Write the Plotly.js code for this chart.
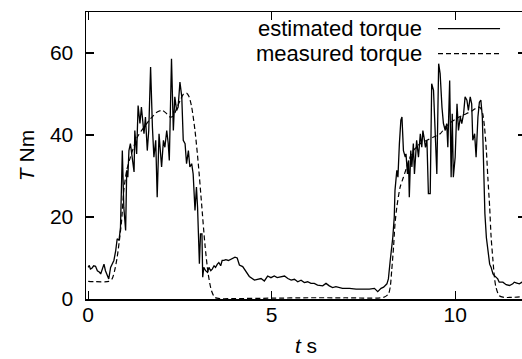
<!DOCTYPE html>
<html>
<head>
<meta charset="utf-8">
<script src="https://cdn.plot.ly/plotly-3.0.1.min.js"></script>
<style>
html, body { margin: 0; padding: 0; overflow: hidden; background: #fff; }
#chart { width: 530px; height: 365px; }
</style>
</head>
<body>
<div id="chart"></div>
<script>
// Estimated torque (solid)
var estTime = [
  0.00, 0.03, 0.06, 0.10, 0.15, 0.20, 0.25, 0.30, 0.34, 0.38, 0.43, 0.47, 0.52, 0.56, 0.61, 0.65, 0.70, 0.75, 0.79, 0.84,
  0.88, 0.93, 0.97, 1.02, 1.05, 1.08, 1.11, 1.15, 1.20, 1.25, 1.27, 1.32, 1.36, 1.41, 1.45, 1.52, 1.56, 1.61, 1.65, 1.70,
  1.75, 1.79, 1.84, 1.88, 1.93,
  2.00, 2.05, 2.09, 2.14, 2.18, 2.21, 2.27, 2.32, 2.36, 2.41, 2.45, 2.50, 2.55, 2.59, 2.64, 2.68, 2.73, 2.77, 2.82, 2.86,
  2.91, 2.95, 2.98, 3.03, 3.06, 3.10, 3.12, 3.15, 3.20, 3.25, 3.29, 3.34, 3.38, 3.43, 3.47, 3.52, 3.56, 3.61, 3.65, 3.70,
  3.75, 3.82, 3.91, 4.00, 4.06,
  4.12, 4.21, 4.30, 4.39, 4.53, 4.62, 4.71, 4.80, 4.89, 4.98, 5.07, 5.15, 5.25, 5.35, 5.44, 5.53, 5.62, 5.71, 5.80, 5.89,
  5.98, 6.07, 6.16, 6.25, 6.39, 6.48, 6.57, 6.66, 6.75, 6.84, 6.93, 7.12, 7.30, 7.48, 7.66, 7.80, 7.89, 7.98,
  8.05, 8.14, 8.18, 8.23, 8.27, 8.30, 8.34, 8.36, 8.41, 8.44, 8.48, 8.52, 8.55, 8.59, 8.64, 8.66, 8.70, 8.73, 8.75, 8.79,
  8.82, 8.86, 8.89, 8.93, 8.95, 9.00, 9.05, 9.09, 9.12, 9.15, 9.19, 9.23, 9.27, 9.32, 9.36, 9.41, 9.45, 9.50, 9.55, 9.59,
  9.64, 9.68, 9.73,
  9.77, 9.80, 9.85, 9.89, 9.92, 9.95, 10.00, 10.05, 10.09, 10.14, 10.18, 10.23, 10.27, 10.32, 10.36, 10.41, 10.45, 10.48,
  10.53, 10.57, 10.62, 10.66, 10.70, 10.74, 10.77, 10.81, 10.85, 10.89, 10.94, 10.98, 11.03, 11.07, 11.11, 11.16, 11.20,
  11.30, 11.39, 11.48, 11.57, 11.61, 11.68, 11.75, 11.82, 11.93
];
var estTorque = [
  7.7, 8.2, 7.3, 7.5, 8.1, 8.0, 6.9, 6.6, 6.1, 7.4, 8.5, 6.9, 5.7, 4.9, 7.7, 8.5, 9.4, 11.8, 14.7, 14.3,
  17.5, 36.2, 22.4, 16.7, 31.4, 29.7, 36.2, 37.9, 34.6, 31.0, 41.1, 35.4, 47.2, 42.8, 46.8, 40.3, 44.4, 36.2, 41.1, 56.6,
  41.9, 34.6, 38.7, 24.8, 40.3,
  32.2, 38.7, 37.0, 41.1, 38.0, 33.8, 58.6, 41.1, 49.3, 46.0, 46.8, 52.9, 49.3, 38.7, 37.9, 33.0, 36.2, 32.2, 33.0, 30.5,
  21.6, 27.3, 22.4, 8.6, 15.9, 15.9, 5.3, 7.7, 6.9, 6.5, 7.7, 6.9, 7.3, 8.1, 7.7, 8.5, 8.9, 8.1, 9.4, 9.4,
  9.6, 9.4, 9.8, 10.2, 10.0,
  8.3, 7.9, 6.7, 5.5, 4.6, 4.8, 5.0, 4.4, 5.6, 5.2, 5.6, 5.2, 5.4, 5.6, 5.0, 4.6, 4.8, 4.2, 4.6, 4.0,
  4.2, 3.8, 3.8, 3.4, 3.2, 3.8, 3.2, 2.8, 3.0, 2.8, 2.6, 2.6, 2.4, 2.4, 2.4, 2.6, 1.8, 2.6,
  2.9, 3.7, 4.9, 9.4, 12.2, 15.0, 20.0, 26.5, 31.4, 29.7, 37.9, 43.6, 44.4, 36.2, 34.6, 35.4, 30.5, 33.8, 24.8, 36.2,
  32.2, 37.9, 30.5, 35.4, 38.7, 34.6, 40.3, 37.0, 41.1, 39.5, 37.0, 38.7, 25.7, 25.7, 52.5, 50.9, 41.1, 30.5, 57.4, 55.0,
  46.8, 42.8, 41.1,
  42.8, 37.0, 53.3, 29.7, 45.2, 29.7, 34.6, 47.6, 41.1, 44.4, 42.8, 45.2, 49.3, 48.5, 46.0, 49.3, 47.6, 38.7,
  40.3, 34.6, 44.4, 48.0, 48.5, 44.4, 33.0, 20.8, 15.0, 12.6, 8.5, 7.7, 6.1, 5.7, 5.3, 4.9, 4.1,
  4.1, 3.5, 3.3, 3.7, 4.1, 3.9, 3.7, 4.1, 4.2
];

// Measured torque (dashed)
var measTime = [
  0.00, 0.56, 0.65, 0.72, 0.79, 0.85, 0.91, 0.97, 1.05, 1.15, 1.34, 1.52, 1.70, 1.88, 2.02, 2.14, 2.23, 2.32, 2.41, 2.50,
  2.60, 2.68, 2.75, 2.82, 2.91, 3.00, 3.09, 3.18, 3.27, 3.36, 3.45, 3.59, 4.00, 5.00, 6.00, 7.00, 8.05, 8.18, 8.23, 8.27,
  8.32, 8.36, 8.41, 8.50, 8.59, 8.68, 8.77, 8.86, 9.05, 9.23, 9.41, 9.59, 9.77, 10.03, 10.30, 10.48, 10.62, 10.69, 10.75,
  10.80, 10.85, 10.89, 10.94, 10.98, 11.03, 11.07, 11.11, 11.20, 11.34, 11.93
];
var measTorque = [
  4.3, 4.3, 4.9, 6.9, 10.2, 14.3, 19.1, 26.5, 31.4, 34.6, 39.5, 41.9, 44.0, 45.6, 46.0, 45.2, 44.4, 44.6, 46.5, 48.3,
  50.0, 50.2, 49.3, 46.8, 41.1, 33.0, 23.2, 13.4, 6.1, 2.0, 0.4, 0.1, 0.1, 0.2, 0.3, 0.3, 0.4, 1.2, 2.9, 6.9,
  12.6, 18.3, 22.4, 27.3, 29.7, 32.2, 34.6, 36.2, 37.9, 38.7, 39.5, 40.3, 42.3, 44.0, 45.2, 46.0, 46.8, 46.6, 45.2,
  41.9, 36.2, 29.7, 22.4, 15.0, 9.4, 5.3, 2.9, 0.8, 0.4, 0.6
];

var seriesNames = ['estimated torque', 'measured torque'];
var xTicks = [0, 5, 10];
var yTicks = [0, 20, 40, 60];

var traces = [
  {x: estTime, y: estTorque, type: 'scatter', mode: 'lines', name: seriesNames[0],
   line: {color: '#000', width: 1.3}},
  {x: measTime, y: measTorque, type: 'scatter', mode: 'lines', name: seriesNames[1],
   line: {color: '#000', width: 1.2, dash: '5px,3px', shape: 'spline', smoothing: 0.7}}
];

var fontFam = 'Liberation Sans, Arial, Helvetica, sans-serif';
var legY1 = 0.942, legY2 = 0.855;
var layout = {
  width: 530, height: 365,
  margin: {l: 86, r: 4, t: 12, b: 66},
  paper_bgcolor: '#fff', plot_bgcolor: '#fff',
  showlegend: false,
  font: {family: fontFam, size: 21, color: '#000'},
  xaxis: {
    range: [-0.06, 11.93], tickvals: xTicks, ticktext: xTicks.map(String),
    ticks: 'inside', ticklen: 8, tickwidth: 1.3, tickcolor: '#000',
    showline: true, linewidth: 1.5, linecolor: '#000', mirror: 'ticks',
    showgrid: false, zeroline: false, ticklabelstandoff: -4,
    title: {text: '<i>t</i> s', standoff: 13, font: {size: 21}}
  },
  yaxis: {
    range: [0, 70], tickvals: yTicks, ticktext: yTicks.map(String),
    ticks: 'inside', ticklen: 8, tickwidth: 1.3, tickcolor: '#000',
    showline: true, linewidth: 1.5, linecolor: '#000', mirror: 'ticks',
    showgrid: false, zeroline: false, ticklabelstandoff: 7,
    title: {text: '<i>T</i> Nm', standoff: 9, font: {size: 21}}
  },
  annotations: [
    {xref: 'paper', yref: 'paper', x: 0.767, y: legY1, xanchor: 'right', yanchor: 'middle',
     text: seriesNames[0], showarrow: false, font: {size: 22}, borderpad: 0},
    {xref: 'paper', yref: 'paper', x: 0.767, y: legY2, xanchor: 'right', yanchor: 'middle',
     text: seriesNames[1], showarrow: false, font: {size: 22}, borderpad: 0}
  ],
  shapes: [
    {type: 'line', xref: 'paper', yref: 'paper', x0: 0.800, x1: 0.941, y0: legY1, y1: legY1,
     line: {color: '#000', width: 1.2}},
    {type: 'line', xref: 'paper', yref: 'paper', x0: 0.800, x1: 0.941, y0: legY2, y1: legY2,
     line: {color: '#000', width: 1.2, dash: '5px,3px'}}
  ]
};

Plotly.newPlot('chart', traces, layout, {displayModeBar: false, staticPlot: true});
</script>
</body>
</html>
